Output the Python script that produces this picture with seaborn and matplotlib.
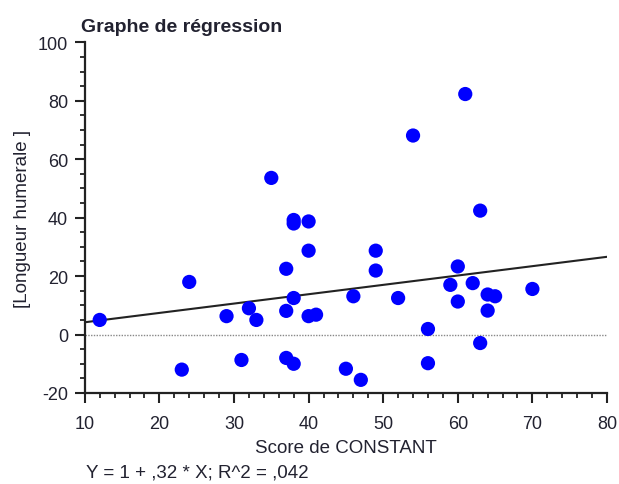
import matplotlib
matplotlib.use("Agg")
import matplotlib.pyplot as plt
import seaborn as sns
import numpy as np
import pandas as pd
from matplotlib.ticker import MultipleLocator

# Data
score_constant = [12, 23, 24, 29, 31, 32, 33, 35, 37, 37, 37, 38, 38, 38, 38,
                  40, 40, 40, 41, 45, 46, 47, 49, 49, 52, 54, 56, 56, 59, 60,
                  60, 61, 62, 63, 63, 64, 64, 65, 70]
longueur_humerale = [5, -12, 18, 6.3, -8.7, 9, 5, 53.6, 22.5, 8.1, -8, -10, 12.5, 39.2, 38,
                     38.7, 28.7, 6.3, 6.8, -11.7, 13.1, -15.5, 28.7, 21.9, 12.5, 68.1, 1.9, -9.8, 17, 23.3,
                     11.3, 82.3, 17.6, 42.4, -2.9, 13.7, 8.2, 13.1, 15.6]
intercept = 1.0
slope = 0.32
x_range = [10, 80]
y_range = [-20, 100]
x_ticks = [10, 20, 30, 40, 50, 60, 70, 80]
y_ticks = [-20, 0, 20, 40, 60, 80, 100]

df = pd.DataFrame({"x": score_constant, "y": longueur_humerale})

sns.set_style("ticks")
plt.rcParams['font.family'] = ['Liberation Sans', 'DejaVu Sans']
plt.rcParams['axes.unicode_minus'] = False

W, H = 619, 485
fig = plt.figure(figsize=(W / 100, H / 100), dpi=100)
left, right, top, bottom = 84.8, 607.0, 43.3, 394.0
ax = fig.add_axes([left / W, 1 - bottom / H, (right - left) / W, (bottom - top) / H])

text_color = "#222230"

# zero reference line
ax.plot(x_range, [0, 0], linestyle=(0, (1, 1)), color="#888888", linewidth=1.0, zorder=1)

# regression line
line_x = np.array(x_range, dtype=float)
line_y = intercept + slope * line_x
ax.plot(line_x, line_y, color="#222222", linewidth=1.5, zorder=2)

sns.scatterplot(data=df, x="x", y="y", ax=ax, color="#0000ff", s=105,
                edgecolor="none", linewidth=0, zorder=3, clip_on=False, legend=False)

ax.set_xlim(*x_range)
ax.set_ylim(*y_range)
ax.set_xticks(x_ticks)
ax.set_yticks(y_ticks)
ax.xaxis.set_minor_locator(MultipleLocator(2))
ax.yaxis.set_minor_locator(MultipleLocator(5))

for s in ["top", "right"]:
    ax.spines[s].set_visible(False)
for s in ["left", "bottom"]:
    ax.spines[s].set_linewidth(1.6)
    ax.spines[s].set_color("#222222")

ax.tick_params(axis="both", which="major", length=7, width=1.5, color="#222222",
               labelsize=13, labelcolor=text_color)
ax.tick_params(axis="both", which="minor", length=3.5, width=1.3, color="#222222")
ax.tick_params(axis="x", which="major", pad=9)
ax.tick_params(axis="y", which="major", pad=5)

ax.set_xlabel("Score de CONSTANT", fontsize=13.5, color=text_color, labelpad=5)
ax.set_ylabel("[Longueur humerale ]", fontsize=13.5, color=text_color)
ax.yaxis.set_label_coords(-(left - 31) / (right - left), 0.5)

fig.text(81 / W, 1 - 27 / H, "Graphe de régression", fontsize=14, fontweight="bold",
         color=text_color, ha="left", va="center")
fig.text(86 / W, 1 - 473 / H, "Y = 1 + ,32 * X; R^2 = ,042", fontsize=13.5,
         color=text_color, ha="left", va="center")

fig.savefig("out.png", dpi=100)
